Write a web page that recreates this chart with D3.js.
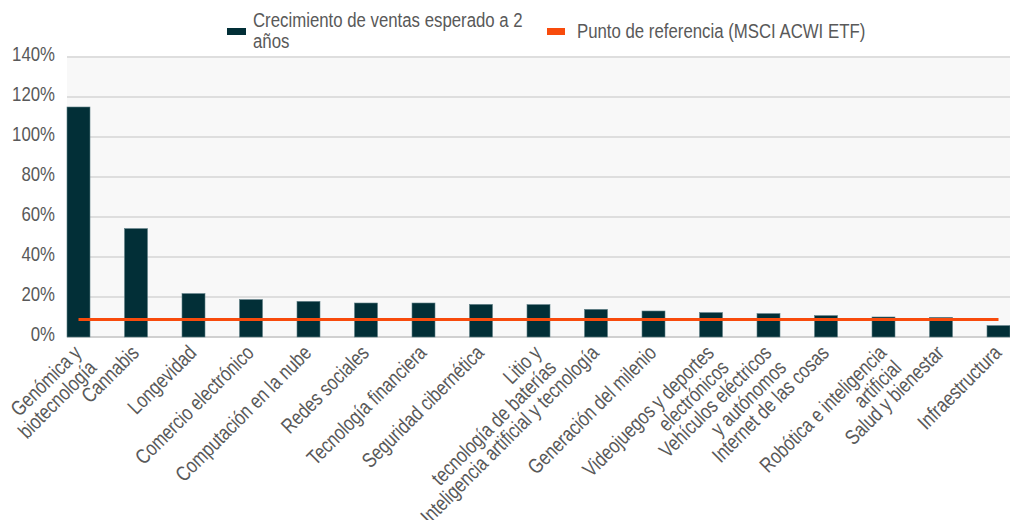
<!DOCTYPE html>
<html>
<head>
<meta charset="utf-8">
<script src="https://cdn.jsdelivr.net/npm/d3@7"></script>
<style>
  body { margin: 0; background: #fff; }
  svg text { font-family: "Liberation Sans", Arial, sans-serif; fill: #595959; }
</style>
</head>
<body>
<div id="chart"></div>
<script>
// Crecimiento de ventas esperado a 2 años por tema vs. punto de referencia

const categories = ["Genómica y\nbiotecnología", "Cannabis", "Longevidad", "Comercio electrónico",
    "Computación en la nube", "Redes sociales", "Tecnología financiera", "Seguridad cibernética",
    "Litio y\ntecnología de baterías", "Inteligencia artificial y tecnología", "Generación del milenio",
    "Videojuegos y deportes\nelectrónicos", "Vehículos eléctricos\ny autónomos", "Internet de las cosas",
    "Robótica e inteligencia\nartificial", "Salud y bienestar", "Infraestructura"];
const growth = [1.15, 0.542, 0.217, 0.187, 0.178, 0.17, 0.17, 0.163, 0.162, 0.138, 0.13, 0.122, 0.117, 0.107, 0.10, 0.098, 0.057];
const benchmark = 0.087;
const yTicks = [0, 0.2, 0.4, 0.6, 0.8, 1.0, 1.2, 1.4];
const legendLabels = ["Crecimiento de ventas esperado a 2\naños", "Punto de referencia (MSCI ACWI ETF)"];

const width = 1010,
    height = 520,
    margin = ({top: 57, right: 0, bottom: 183, left: 67});

const barColor = "#022f37",
    lineColor = "#f84b0c",
    fontSize = 21,
    narrow = 0.8;   // no Arial Narrow here, so squeeze Liberation Sans

let svg = d3.select("#chart")
    .append("svg")
    .attr("width", width)
    .attr("height", height)
    .attr("viewBox", [0, 0, width, height]);

const x = d3.scaleBand()
    .domain(categories)
    .range([margin.left, width - margin.right])
    .paddingInner(0.6)
    .paddingOuter(0);

const y = d3.scaleLinear()
    .domain([0, 1.4])
    .range([height - margin.bottom, margin.top]);

// plot background
svg.append("rect")
    .attr("x", margin.left)
    .attr("y", y(1.4))
    .attr("width", width - margin.left - margin.right)
    .attr("height", y(0) - y(1.4))
    .attr("fill", "#f8f8f8");

// gridlines
svg.append("g")
    .selectAll("line")
    .data(yTicks)
    .join("line")
    .attr("x1", margin.left)
    .attr("x2", width - margin.right)
    .attr("y1", d => y(d))
    .attr("y2", d => y(d))
    .attr("stroke", d => d === 0 ? "#d0d0d0" : "#dedede")
    .attr("stroke-width", 2);

// y axis labels
const fmt = d3.format(".0%");
svg.append("g")
    .selectAll("g")
    .data(yTicks)
    .join("g")
    .attr("transform", d => `translate(${margin.left - 12},${y(d) - 3}) scale(${narrow},1)`)
    .append("text")
    .attr("font-size", fontSize)
    .attr("text-anchor", "end")
    .attr("dy", "0.35em")
    .text(d => fmt(d));

// bars
svg.append("g")
    .selectAll("rect")
    .data(growth)
    .join("rect")
    .attr("x", (d, i) => x(categories[i]))
    .attr("y", d => y(d))
    .attr("width", x.bandwidth())
    .attr("height", d => y(0) - y(d))
    .attr("fill", barColor)
    .attr("stroke", "#5f7f86")
    .attr("stroke-width", 0.6);

// benchmark line
svg.append("line")
    .attr("x1", x(categories[0]) + x.bandwidth() / 2)
    .attr("x2", x(categories[categories.length - 1]) + x.bandwidth() / 2)
    .attr("y1", y(benchmark))
    .attr("y2", y(benchmark))
    .attr("stroke", lineColor)
    .attr("stroke-width", 3);

// x labels, rotated, wrapped lines end-aligned below the first
const lineH = 21;
svg.append("g")
    .selectAll("g")
    .data(categories)
    .join("g")
    .attr("transform", d => `translate(${x(d) + x.bandwidth() / 2 - 1},${y(0) + 12}) rotate(-45) scale(${narrow},1)`)
    .append("text")
    .attr("font-size", fontSize)
    .attr("text-anchor", "end")
    .selectAll("tspan")
    .data(d => d.split("\n"))
    .join("tspan")
    .attr("x", 0)
    .attr("y", (d, i) => i * lineH)
    .attr("dy", "0.35em")
    .text(d => d);

// legend
const legend = svg.append("g");
legend.append("rect")
    .attr("x", 227).attr("y", 28).attr("width", 19).attr("height", 7)
    .attr("fill", barColor);
legend.append("g")
    .attr("transform", `translate(253,27) scale(${narrow},1)`)
    .append("text")
    .attr("font-size", fontSize)
    .selectAll("tspan")
    .data(legendLabels[0].split("\n"))
    .join("tspan")
    .attr("x", 0)
    .attr("dy", (d, i) => i === 0 ? 0 : 21)
    .text(d => d);
legend.append("rect")
    .attr("x", 547).attr("y", 28).attr("width", 18).attr("height", 7)
    .attr("fill", lineColor);
legend.append("g")
    .attr("transform", `translate(577,38) scale(${narrow},1)`)
    .append("text")
    .attr("font-size", fontSize)
    .text(legendLabels[1]);
</script>
</body>
</html>
